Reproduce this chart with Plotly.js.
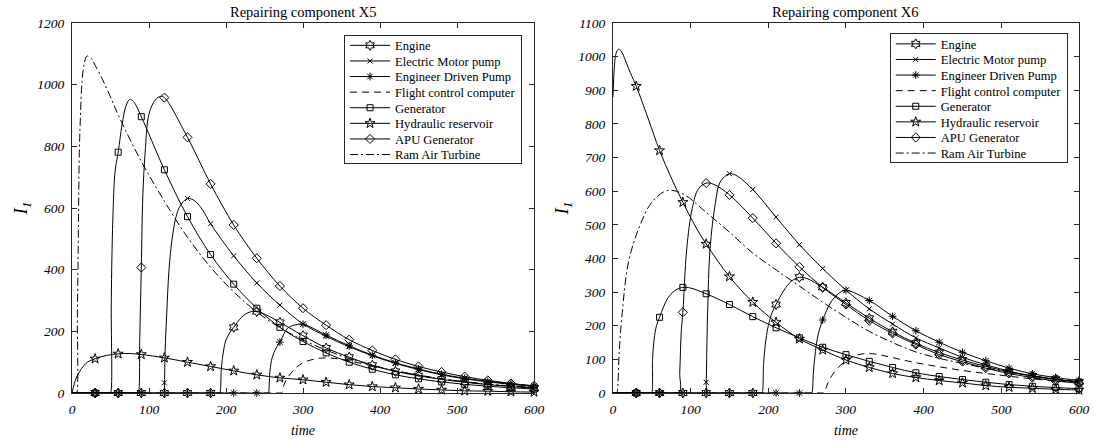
<!DOCTYPE html>
<html><head><meta charset="utf-8">
<script src="https://cdn.plot.ly/plotly-3.0.1.min.js"></script>
<style>html,body{margin:0;padding:0;background:#fff;} #chart{width:1095px;height:441px;}</style>
</head><body><div id="chart"></div>
<script>
// ---------- data ----------
const seriesNames = ['Engine','Electric Motor pump','Engineer Driven Pump','Flight control computer','Generator','Hydraulic reservoir','APU Generator','Ram Air Turbine'];
const xTicks = [0,100,200,300,400,500,600];
const yTicksX5 = [0,200,400,600,800,1000,1200];
const yTicksX6 = [0,100,200,300,400,500,600,700,800,900,1000,1100];
const panelTitles = ['Repairing component X5','Repairing component X6'];

// Repairing component X5
const x5_engine_t = [0,30,60,90,120,150,180,191,192,194,197,200,205,210,220,230,240,255,270,300,330,360,390,420,450,480,510,540,570,600];
const x5_engine_v = [0,0,0,0,0,0,0,0,0,80,140,172,196,213,245,262,264,250,229,186,146,116,90,70,56,44,35,27,21,16];
const x5_emp_t = [0,30,60,90,119,120,121,123,126,130,135,140,150,160,170,180,210,240,270,300,330,360,390,420,450,480,510,540,570,600];
const x5_emp_v = [0,0,0,0,0,33,140,256,400,500,570,605,631,622,592,549,445,357,285,224,184,150,121,96,76,59,46,36,28,21];
const x5_edp_t = [0,30,60,90,120,150,180,210,240,254,255,257,260,265,270,280,290,300,330,360,390,420,450,480,510,540,570,600];
const x5_edp_v = [0,0,0,0,0,0,0,0,0,0,0,70,115,145,165,210,221,223,188,153,123,98,78,61,48,38,30,23];
const x5_fcc_t = [0,270,272,275,280,290,300,315,330,345,360,390,420,450,480,510,540,570,600];
const x5_fcc_v = [0,0,0,25,50,80,98,110,114,111,104,88,72,58,46,36,28,22,17];
const x5_gen_t = [0,30,49,50,51,53,56,60,65,70,75,80,90,120,150,180,210,240,270,300,330,360,390,420,450,480,510,540,570,600];
const x5_gen_v = [0,0,0,0,300,560,720,781,870,930,952,945,896,724,572,449,353,275,213,167,130,100,77,59,46,36,28,22,17,13];
const x5_hyd_t = [0,3,6,10,15,20,30,45,60,75,90,120,150,180,210,240,270,300,330,360,390,420,450,480,510,540,570,600];
const x5_hyd_v = [0,30,52,70,88,100,111,122,127,128,125,114,100,86,72,59,49,43,35,27,21,17,13,10,7,6,4,3];
const x5_apu_t = [0,30,60,85,86,88,90,92,95,100,108,115,120,150,180,210,240,270,300,330,360,390,420,450,480,510,540,570,600];
const x5_apu_v = [0,0,0,0,0,180,407,640,780,905,950,962,958,829,678,545,437,347,275,220,173,138,109,86,68,53,41,31,23];
const x5_rat_t = [0,5,6,7,8,9.5,11,13,16,19.5,25,30,40,50,60,90,120,150,180,210,240,270,300,330,360,390,420,450,480,510,540,570,600];
const x5_rat_v = [0,0,0,250,450,780,900,1010,1070,1093,1085,1063,1015,960,902,751,622,505,408,328,263,212,172,139,112,90,72,58,46,37,29,23,18];

// Repairing component X6
const x6_engine_t = [0,30,60,90,120,150,180,191,192,194,197,200,205,210,220,230,240,250,270,300,330,360,390,420,450,480,510,540,570,600];
const x6_engine_v = [0,0,0,0,0,0,0,0,0,90,160,200,240,263,305,333,344,340,314,268,222,182,148,120,98,79,63,51,41,33];
const x6_emp_t = [0,30,60,90,119,120,121,122,125,132,138,150,160,180,210,240,270,300,330,360,390,420,450,480,510,540,570,600];
const x6_emp_v = [0,0,0,0,0,32,150,250,429,567,627,652,645,605,523,441,370,306,250,205,164,134,106,84,65,50,40,32];
const x6_edp_t = [0,30,60,90,120,150,180,210,240,255,256,258,260,263,266,270,275,280,290,300,330,360,390,420,450,480,510,540,570,600];
const x6_edp_v = [0,0,0,0,0,0,0,0,0,0,0,60,110,160,190,217,245,268,295,305,275,228,185,151,121,96,74,57,46,37];
const x6_fcc_t = [0,270,272,275,280,290,300,312,325,340,360,390,420,450,480,510,540,570,600];
const x6_fcc_v = [0,0,0,20,45,76,95,111,117,115,105,90,78,67,58,50,42,36,31];
const x6_gen_t = [0,30,49,50,51,53,56,60,65,70,80,90,100,120,150,180,210,240,270,300,330,360,390,420,450,480,510,540,570,600];
const x6_gen_v = [0,0,0,0,100,160,200,225,255,280,305,314,312,295,263,227,194,164,136,114,94,76,60,49,40,32,25,20,16,13];
const x6_hyd_t = [0,2,4,7,10,15,20,30,45,60,75,90,105,120,150,180,210,240,270,300,330,360,390,420,450,480,510,540,570,600];
const x6_hyd_v = [880,975,1010,1022,1018,995,965,912,818,721,640,567,500,443,346,270,210,161,128,98,76,58,46,37,30,22,17,14,11,9];
const x6_apu_t = [0,30,60,85,86,87,88,90,95,102,110,120,130,150,180,210,240,270,300,330,360,390,420,450,480,510,540,570,600];
const x6_apu_v = [0,0,0,0,60,130,185,240,429,548,607,624,620,589,520,445,375,314,263,215,177,144,114,93,74,58,46,36,29];
const x6_rat_t = [0,4,5,6,8,12,20,33,50,70,90,120,150,180,210,240,270,300,330,360,390,420,450,480,510,540,570,600];
const x6_rat_v = [0,0,0,12,120,240,389,488,567,602,592,537,478,416,366,318,270,225,183,150,122,103,88,74,62,51,42,34];

// ---------- styles ----------
const markerSymbols = ['hexagram-open','x-thin-open','asterisk-open',null,'square-open','star-open','diamond-open',null];
const markerSizes = [7.5,5,6.5,0,6,7.5,7,0];
const lineDashes = ['solid','solid','solid','7px,5px','solid','solid','solid','8px,3px,2px,3px'];
const FONT = 'Liberation Serif, Times New Roman, serif';
const LEG_PITCH = 15.6, LEG_TOP_PAD = 10, LEG_BOTTOM_PAD = 9;

const panels = [
  {xa:'x', ya:'y', legend:'legend', data:[[x5_engine_t,x5_engine_v],[x5_emp_t,x5_emp_v],[x5_edp_t,x5_edp_v],[x5_fcc_t,x5_fcc_v],[x5_gen_t,x5_gen_v],[x5_hyd_t,x5_hyd_v],[x5_apu_t,x5_apu_v],[x5_rat_t,x5_rat_v]]},
  {xa:'x2', ya:'y2', legend:'legend2', data:[[x6_engine_t,x6_engine_v],[x6_emp_t,x6_emp_v],[x6_edp_t,x6_edp_v],[x6_fcc_t,x6_fcc_v],[x6_gen_t,x6_gen_v],[x6_hyd_t,x6_hyd_v],[x6_apu_t,x6_apu_v],[x6_rat_t,x6_rat_v]]}
];

const traces = [];
panels.forEach(p => {
  p.data.forEach((d, i) => {
    const t = d[0], v = d[1];
    const hasMarker = !!markerSymbols[i];
    const tr = {
      type:'scatter', x:t, y:v, name:seriesNames[i], xaxis:p.xa, yaxis:p.ya, legend:p.legend,
      mode: hasMarker ? 'lines+markers' : 'lines',
      line:{color:'#000', width:1, shape:'spline', smoothing:1, dash:lineDashes[i]},
      cliponaxis:false, hoverinfo:'skip'
    };
    if (hasMarker) {
      tr.marker = {symbol:markerSymbols[i], size:markerSizes[i], color:'#000', line:{color:'#000', width:1}};
      tr.selectedpoints = t.map((tt, k) => (tt > 0 && tt % 30 === 0) ? k : -1).filter(k => k >= 0);
      tr.selected = {marker:{opacity:1}};
      tr.unselected = {marker:{opacity:0}};
    }
    traces.push(tr);
  });
});

const axisCommon = {
  showgrid:false, zeroline:false, showline:true, linecolor:'#262626', linewidth:1,
  mirror:'ticks', ticks:'inside', ticklen:5, tickcolor:'#262626', tickwidth:1,
  tickfont:{family:FONT, size:13.5, style:'italic', color:'#000'}, ticklabelstandoff:4
};
const xCommon = Object.assign({}, axisCommon, {
  range:[0,600], tickvals:xTicks, ticktext:xTicks.map(String),
  title:{text:'time', font:{family:FONT, size:14, style:'italic', color:'#000'}, standoff:8}
});
const yTitle = {text:'I<sub>1</sub>', font:{family:FONT, size:19, style:'italic', color:'#000'}, standoff:4};

const legendCommon = {
  xanchor:'right', yanchor:'top', bgcolor:'#fff', bordercolor:'#262626', borderwidth:1,
  font:{family:FONT, size:12.6, color:'#000'}, itemwidth:40, tracegroupgap:0, itemclick:false
};

const layout = {
  width:1095, height:441,
  margin:{l:72, r:16, t:23, b:48},
  paper_bgcolor:'#fff', plot_bgcolor:'#fff',
  font:{family:FONT, color:'#000'},
  showlegend:true,
  xaxis: Object.assign({}, xCommon, {domain:[0, 0.4588], anchor:'y'}),
  yaxis: Object.assign({}, axisCommon, {domain:[0,1], anchor:'x', range:[0,1200], tickvals:yTicksX5, ticktext:yTicksX5.map(String), title:yTitle}),
  xaxis2: Object.assign({}, xCommon, {domain:[0.5372, 1], anchor:'y2'}),
  yaxis2: Object.assign({}, axisCommon, {domain:[0,1], anchor:'x2', range:[0,1100], tickvals:yTicksX6, ticktext:yTicksX6.map(String), title:yTitle}),
  legend: Object.assign({}, legendCommon, {x:0.4469, y:0.968}),
  legend2: Object.assign({}, legendCommon, {x:0.9888, y:0.972}),
  annotations: panelTitles.map((txt, k) => ({
    text:txt, xref:(k ? 'x2' : 'x') + ' domain', yref:'paper', x:0.5, y:1, yanchor:'bottom', xanchor:'center',
    showarrow:false, yshift:1, font:{family:FONT, size:14.5, color:'#000'}
  }))
};

// tighten legend row spacing to the reference's (Plotly's minimum row height is larger)
function tightenLegends(gd) {
  gd.querySelectorAll('g.legend, g.legend2').forEach(leg => {
    const bg = leg.querySelector('rect.bg');
    const items = Array.from(leg.querySelectorAll('g.traces'));
    if (!bg || items.length < 2 || !items[0].getCTM || !bg.getCTM) return;
    const tr = el => {
      const m = /translate\(\s*([-\d.e]+)[\s,]+([-\d.e]+)\s*\)/.exec(el.getAttribute('transform') || '');
      return m ? [parseFloat(m[1]), parseFloat(m[2])] : [0, 0];
    };
    const p0 = tr(items[0]);
    const bgTop = bg.getCTM().f + (parseFloat(bg.getAttribute('y')) || 0);
    const delta = (bgTop + LEG_TOP_PAD) - items[0].getCTM().f;
    items.forEach((it, k) => it.setAttribute('transform', 'translate(' + p0[0] + ',' + (p0[1] + delta + k * LEG_PITCH) + ')'));
    bg.setAttribute('height', LEG_TOP_PAD + (items.length - 1) * LEG_PITCH + LEG_BOTTOM_PAD);
  });
}

Plotly.newPlot('chart', traces, layout, {staticPlot:true, displayModeBar:false}).then(tightenLegends);
</script></body></html>
